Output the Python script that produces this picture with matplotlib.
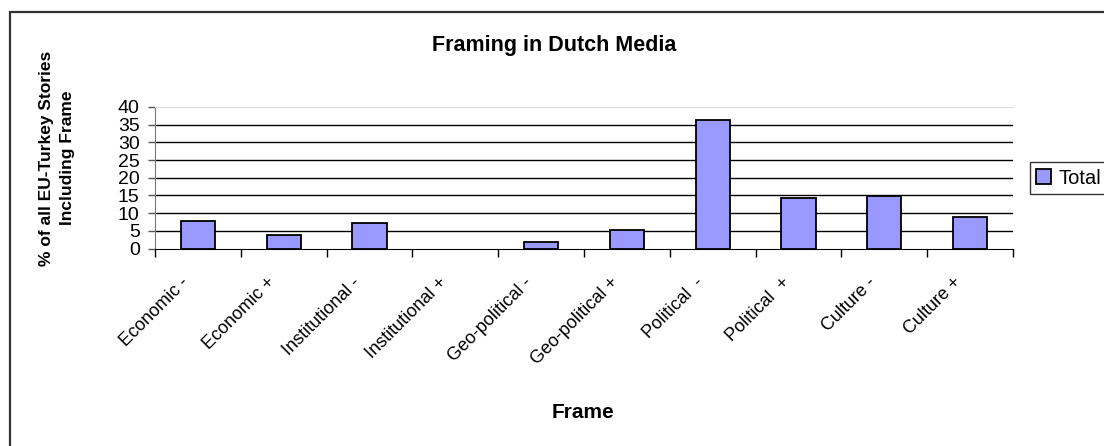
import numpy as np
import matplotlib as mpl
import matplotlib.pyplot as plt
from matplotlib.patches import Rectangle

mpl.rcParams['font.family'] = ['Liberation Sans', 'DejaVu Sans']

frames = ["Economic -", "Economic +", "Institutional -", "Institutional +",
          "Geo-political -", "Geo-political +", "Political  -", "Political  +",
          "Culture -", "Culture +"]
total = [7.7, 3.7, 7.3, 0.0, 1.8, 5.3, 36.2, 14.4, 14.9, 9.0]
yticks = [0, 5, 10, 15, 20, 25, 30, 35, 40]

W, H = 1104, 446
fig = plt.figure(figsize=(W / 100, H / 100), dpi=100)
ax = fig.add_axes([155 / W, 1 - 248.5 / H, (1013 - 155) / W, (248.5 - 107) / H])

x = np.arange(len(frames))
lw = [0 if v == 0 else 1.3 for v in total]
ax.bar(x, total, width=0.4, color='#9999FF', edgecolor='black', linewidth=lw,
       label='Total', zorder=3)

ax.set_xlim(-0.5, len(frames) - 0.5)
ax.set_ylim(0, 40)
ax.set_yticks(yticks)
ax.tick_params(axis='y', labelsize=14, length=5, width=1, pad=6, color='#555555')
for y in yticks[1:-1]:
    ax.axhline(y, color='black', linewidth=1, zorder=1)

ax.set_xticks(np.arange(-0.5, len(frames)), minor=False)
ax.set_xticklabels([])
ax.tick_params(axis='x', length=6, width=1, color='black')
for xi, lab in zip(x, frames):
    ax.text(xi - 0.13, -9.0, lab, rotation=45, ha='right', va='center',
            rotation_mode='anchor', fontsize=13)

ax.spines['top'].set_color('#dddddd')
ax.spines['right'].set_visible(False)
ax.spines['left'].set_color('#777777')
ax.spines['bottom'].set_color('black')

fig.text(554 / W, 1 - 45 / H, "Framing in Dutch Media", ha='center', va='center',
         fontsize=15.5, fontweight='bold')
fig.text(583 / W, 1 - 413 / H, "Frame", ha='center', va='center',
         fontsize=15, fontweight='bold')
fig.text(57 / W, 1 - 158 / H, "% of all EU-Turkey Stories\nIncluding Frame",
         ha='center', va='center', rotation=90, fontsize=12.5, fontweight='bold',
         linespacing=1.55)

leg = fig.legend(loc='center left', bbox_to_anchor=(1030 / W, 1 - 178 / H),
                 fontsize=14.5, frameon=True, fancybox=False, edgecolor='black',
                 handlelength=0.75, handleheight=0.75, handletextpad=0.35,
                 borderpad=0.3, borderaxespad=0)
leg.get_frame().set_linewidth(1)

fig.add_artist(Rectangle((10 / W, -0.1), 1.2, 1 - 12 / H + 0.1, transform=fig.transFigure,
                         fill=False, edgecolor='#333333', linewidth=1.6))

fig.savefig('out.png', dpi=100)
